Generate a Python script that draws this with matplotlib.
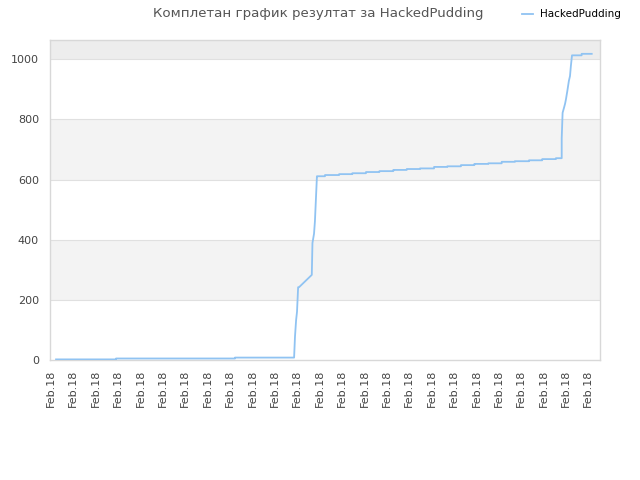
import matplotlib
matplotlib.use("Agg")
import matplotlib.pyplot as plt
import numpy as np

# ---- data (x in tick-position units, y = score) ----
tick_labels = ["Feb.18"] * 25

# flat start, small steps
start_x = [0.23, 2.91, 8.22, 10.86]
start_y = [2, 5, 8, 8]

# first big climb
climb1_x = [10.86, 10.90, 10.95, 10.99, 11.04, 11.08, 11.65, 11.68, 11.75, 11.79, 11.88, 11.90]
climb1_y = [8, 78, 133, 160, 242, 242, 283, 389, 420, 461, 611, 611]

# slow staircase
stair_x = [11.90, 12.24, 12.87, 13.46, 14.07, 14.67, 15.29, 15.89, 16.48, 17.11,
           17.70, 18.31, 18.91, 19.53, 20.13, 20.72, 21.35, 21.94, 22.55, 22.81]
stair_y = [611, 615, 618, 621, 625, 628, 632, 635, 637, 642,
           644, 648, 652, 654, 659, 661, 664, 668, 671, 671]

# second climb
climb2_x = [22.81, 22.81, 22.85, 22.91, 22.96, 23.00, 23.06, 23.13, 23.18, 23.22, 23.27]
climb2_y = [671, 737, 822, 838, 852, 867, 894, 928, 944, 978, 1013]

# final plateau
end_x = [23.27, 23.70, 24.15]
end_y = [1013, 1018, 1018]

bands = [0, 200, 400, 600, 800, 1000, 1064]
band_colors = ["white", "#f3f3f3", "white", "#f3f3f3", "white", "#ededed"]


def steps(x, y):
    # post-step vertices
    vx, vy = [x[0]], [y[0]]
    for i in range(1, len(x)):
        vx += [x[i], x[i]]
        vy += [y[i - 1], y[i]]
    return vx, vy


sx1, sy1 = steps(start_x, start_y)
sx2, sy2 = steps(stair_x, stair_y)
sx3, sy3 = steps(end_x, end_y)
line_x = np.concatenate([sx1, climb1_x, sx2, climb2_x, sx3])
line_y = np.concatenate([sy1, climb1_y, sy2, climb2_y, sy3])

fig = plt.figure(figsize=(6.4, 4.8), dpi=100)
ax = fig.add_axes([50 / 640, 120 / 480, 550 / 640, 320 / 480])

for lo, hi, c in zip(bands[:-1], bands[1:], band_colors):
    ax.axhspan(lo, hi, color=c, zorder=0, lw=0)
for g in bands[1:-1]:
    ax.axhline(g, color="#e0e0e0", lw=0.8, zorder=1)

ax.plot(line_x, line_y, color="#90c3f2", lw=1.3, zorder=3, label="HackedPudding")

ax.set_xlim(-0.04, 24.52)
ax.set_ylim(0, 1064)
ax.set_yticks([0, 200, 400, 600, 800, 1000])
ax.set_xticks(np.arange(len(tick_labels)))
ax.set_xticklabels(tick_labels, rotation=90)
ax.tick_params(axis="both", length=0, labelsize=8, colors="#444444")
ax.tick_params(axis="x", pad=7)
ax.tick_params(axis="y", pad=8)
for s in ax.spines.values():
    s.set_color("#d8d8d8")
    s.set_linewidth(1)

fig.text(0.497, 0.986, "Комплетан график резултат за HackedPudding",
         ha="center", va="top", fontsize=9.6, color="#555555")
fig.legend(loc="upper right", bbox_to_anchor=(0.985, 1.0), frameon=False,
           fontsize=7.5, handlelength=1.0, handletextpad=0.7)

fig.savefig("out.png", dpi=100, facecolor="white")
